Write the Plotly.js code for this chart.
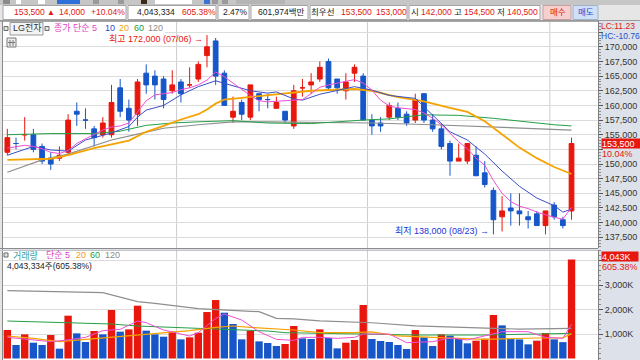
<!DOCTYPE html>
<html><head><meta charset="utf-8">
<script src="https://cdn.plot.ly/plotly-3.0.1.min.js"></script>
<style>html,body{margin:0;padding:0;background:#fff;}#chart{width:640px;height:360px;}</style>
</head><body><div id="chart"></div>
<script>
// ---------- data ----------
const dates = ['06/03','06/04','06/07','06/08','06/09','06/10','06/11','06/14','06/15','06/16','06/17','06/18','06/21','06/22','06/23','06/24','06/25','06/28','06/29','06/30',
 '07/01','07/02','07/05','07/06','07/07','07/08','07/09','07/12','07/13','07/14','07/15','07/16','07/19','07/20','07/21','07/22','07/23','07/26','07/27','07/28','07/29','07/30',
 '08/02','08/03','08/04','08/05','08/06','08/09','08/10','08/11','08/12','08/13','08/17','08/18','08/19','08/20','08/23','08/24','08/25','08/26','08/27','08/30','08/31',
 '09/01','09/02','09/03'];
const openP = [152000,153500,155000,155000,153000,151000,151000,152000,159000,157500,
 156000,155000,155000,163000,159500,158500,165500,165000,164500,162500,
 164000,163500,164500,168500,171000,165500,158000,160500,158000,162000,
 161000,159500,159000,156500,163000,163500,164500,167500,164500,162500,
 165500,165000,157500,157000,158000,159500,158500,157500,162000,157500,
 156000,153500,150500,150500,151500,148500,145500,141000,142500,142000,
 141000,141500,139500,143000,140500,142000];
const highP = [156000,154500,158000,156000,153500,152000,153000,158500,160500,159500,
 156500,158000,163500,164500,161000,164500,167000,166000,165000,166000,
 164500,166500,167500,172000,171500,166000,161500,161000,163500,162000,
 162000,161500,159000,163500,164500,165500,167500,168000,164500,165500,
 167000,165500,158500,158000,160500,160500,159000,162000,162000,158500,
 157000,154000,153500,153500,153000,150500,146000,144500,145000,145000,
 142000,142000,142000,143500,141000,154500];
const lowP = [151500,152500,154000,152000,150000,149000,150500,151500,156500,156000,
 153000,154500,154500,158000,155500,156500,162000,161000,159500,162000,
 160500,163000,164000,166500,163500,160000,157000,157500,157500,159000,
 159500,159500,157000,156000,161500,162000,164000,162500,162000,161000,
 164000,157500,155000,155500,157500,157500,156500,157000,157000,155500,
 152500,148000,150500,150000,148000,146000,138000,138500,139500,139500,
 139000,139500,138000,140500,139000,140500];
const closeP = [154500,153500,155000,152500,150500,150000,151500,157500,158500,157500,
 154500,157000,160500,159000,157500,164000,163500,163500,161000,163500,
 162000,163500,167000,170000,165000,160000,159000,158500,163500,161000,
 161000,160500,157500,162500,163000,164000,166500,163000,163000,164000,
 166500,157500,156500,156500,160000,158000,157000,161000,157500,156000,
 153000,150500,151000,153500,148000,146500,140500,142000,142000,141500,
 140500,139500,142000,141000,139500,153500];
const volumeK = [1163,551,986,646,551,959,401,1748,1027,673,
 1122,986,1979,1095,1190,2156,1136,986,891,1095,
 782,864,1054,1897,2387,1870,1408,782,1136,700,
 632,510,592,1326,823,796,1190,836,415,646,
 755,2183,796,714,673,551,388,1163,864,510,
 986,932,796,619,728,809,1775,1353,796,780,
 578,728,1040,782,667.9,4043.334];

// price moving averages
const ma5 = [152700,153000,153200,153000,152600,152000,151800,152300,153500,154300,
 155000,155800,156300,156500,157000,159000,160800,161800,162000,162200,
 162700,163000,163500,164300,165700,164900,163800,162700,161700,160800,
 160600,160700,160800,160900,161000,162000,163100,163500,163800,164200,
 164400,163800,162600,160900,159900,159600,159500,159300,158700,157800,
 156700,155200,153800,152600,151000,149800,147200,145000,143600,142800,
 142400,141800,141300,140900,140600,142600];
const ma10X = [0,3,5,7,9,12,14,15,16,18,20,22,24,26,28,30,31,33,34,36,38,40,42,44,47,49,51,53,55,57,59,61,63,64,65];
const ma10 = [151500,153000,152400,152200,154100,155300,156400,158000,159200,160000,161800,163200,164200,163300,162500,162100,162300,161100,160900,161900,162600,163200,162600,161700,161200,158400,155500,154100,151700,148800,146200,144200,142900,141800,142300];
const ma20X = [0,5,7,10,14,16,18,20,22,23,24,25,27,31,35,40,42,45,48,51,53,55,57,59,61,63,65];
const ma20 = [150700,150900,151500,152700,154000,155500,156500,157600,158500,159300,160300,161000,161300,161900,162500,162800,162500,161400,160700,159600,158900,157300,155000,152800,151000,149500,148300];
const ma60X = [0,5,10,13,16,19,22,26,30,35,41,44,48,52,56,60,63,65];
const ma60 = [155000,155200,155200,155600,156600,157000,157200,157400,157000,156900,157500,157700,158400,158300,157800,157100,156700,156500];
const ma120X = [0,4,7,12,15,18,22,26,30,36,42,49,56,65];
const ma120 = [148600,150700,151700,154100,155100,156100,156700,157200,157200,157100,157000,156700,156300,155800];

// volume moving averages (thousands of shares)
const vma5X = [0,3,5,7,9,11,13,15,16,18,21,22,24,25,27,29,31,33,34,36,38,40,41,44,46,49,51,53,56,57,60,62,64,65];
const vma5 = [864,755,687,760,864,1136,1190,1530,1462,1163,918,1054,1636,1815,1570,1095,782,740,864,864,823,864,1000,1000,646,687,836,755,1027,1095,1095,864,823,1400];
const vma20X = [0,3,6,9,12,15,18,21,24,26,28,30,33,36,40,42,45,49,55,61,64,65];
const vma20 = [918,823,690,782,864,959,1054,1136,1272,1326,1272,1231,1163,1054,1054,1090,920,864,782,836,842,1017];
const vma60X = [0,6,9,12,15,19,22,26,30,32,36,42,47,55,65];
const vma60 = [1530,1460,1435,1408,1326,1272,1204,1163,1122,1054,1027,986,959,959,1027];
const vma120X = [0,11,15,17,22,27,29,31,33,36,42,47,53,59,65];
const vma120 = [2770,2690,2320,2250,2040,1930,1910,1640,1620,1540,1460,1330,1270,1200,1230];

const priceTicks = [137500,140000,142500,145000,147500,150000,152500,155000,157500,160000,162500,165000,167500,170000,172500];
const volTicks = [1000,2000,3000,4000];
const volTickText = ['1,000K','2,000K','3,000K',''];

// ---------- styling ----------
const RED = '#e8170d', BLUE = '#1656c8';
const FONT = "'Liberation Sans','Noto Sans CJK KR',sans-serif";
const W = 640, H = 360;
const PX = x => x / W, PY = y => 1 - y / H;
const fmt = n => Math.round(n).toLocaleString('en-US');
const idx = dates.map((d, i) => i);
const N = dates.length;
const last = N - 1;

const volColors = volumeK.map((v, i) => (i === 0 || v > volumeK[i - 1]) ? RED : BLUE);

function line(x, y, color, width, xa, ya) {
  return {type: 'scatter', mode: 'lines', x: x, y: y, xaxis: xa, yaxis: ya,
    line: {color: color, width: width}, hoverinfo: 'skip', showlegend: false};
}

const traces = [
  line(ma120X, ma120, '#8e8e8e', 1.2, 'x', 'y'),
  line(ma60X, ma60, '#24a045', 1, 'x', 'y'),
  line(ma20X, ma20, '#f5a300', 1.8, 'x', 'y'),
  line(ma10X, ma10, '#3a4fc6', 1, 'x', 'y'),
  line(idx, ma5, '#ee4fd3', 1, 'x', 'y'),
  {type: 'candlestick', x: idx, open: openP, high: highP, low: lowP, close: closeP,
   xaxis: 'x', yaxis: 'y',
   increasing: {line: {color: RED, width: 1}, fillcolor: RED},
   decreasing: {line: {color: BLUE, width: 1}, fillcolor: BLUE},
   hoverinfo: 'skip', showlegend: false},
  {type: 'bar', x: idx, y: volumeK, xaxis: 'x2', yaxis: 'y2',
   marker: {color: volColors, line: {width: 0}}, hoverinfo: 'skip', showlegend: false},
  line(vma120X, vma120, '#8e8e8e', 1.2, 'x2', 'y2'),
  line(vma60X, vma60, '#24a045', 1, 'x2', 'y2'),
  line(vma20X, vma20, '#f5a300', 1.2, 'x2', 'y2'),
  line(vma5X, vma5, '#ee4fd3', 1, 'x2', 'y2')
];

// ---------- shapes ----------
const shapes = [];
function rect(x0, y0, x1, y1, fill, lineColor, layer) {
  shapes.push({type: 'rect', xref: 'paper', yref: 'paper', x0: PX(x0), x1: PX(x1), y0: PY(y1), y1: PY(y0),
    fillcolor: fill, line: {color: lineColor || fill, width: lineColor ? 1 : 0}, layer: layer || 'above'});
}
function hline(x0, x1, y, color, layer) {
  shapes.push({type: 'line', xref: 'paper', yref: 'paper', x0: PX(x0), x1: PX(x1), y0: PY(y), y1: PY(y),
    line: {color: color, width: 1}, layer: layer || 'above'});
}
function vline(x, y0, y1, color) {
  shapes.push({type: 'line', xref: 'paper', yref: 'paper', x0: PX(x), x1: PX(x), y0: PY(y0), y1: PY(y1),
    line: {color: color, width: 1}, layer: 'above'});
}
// toolbar strip + header row
rect(0, 0, 640, 5, '#c6c6c6');
rect(3, 0, 10, 4, '#8c8c8c'); rect(16, 0, 21, 4, '#ffffff'); rect(38, 0, 45, 4, '#ffffff');
rect(57, 0, 80, 4, '#2f6fd8'); rect(93, 0, 99, 4, '#9a9a9a'); rect(118, 0, 124, 4, '#9a9a9a');
rect(141, 0, 147, 4, '#3a2a1a'); rect(155, 0, 192, 4, '#ffffff');
rect(204, 0, 210, 4, '#3b74d0'); rect(212, 0, 218, 4, '#9a9a9a'); rect(222, 0, 228, 4, '#9a9a9a');
rect(236, 0, 285, 4, '#b5b5b5');
rect(0, 5, 640, 20, '#e6e6e6');
[[3,126],[128,216],[218,249],[251,308],[310,407],[409,540]].forEach(b => rect(b[0], 5.5, b[1], 19.5, '#ffffff', '#a4a4a4'));
rect(543, 5.5, 571, 19.5, '#f6cfcf', '#c9a0a0');
rect(573, 5.5, 598, 19.5, '#cfe0f6', '#9fb3cc');
hline(0, 640, 20.5, '#9a9a9a');
// frames
rect(0, 21, 3, 360, '#e4e4e4');
hline(0, 598, 21.5, '#a9a9a9');
vline(2.5, 21, 360, '#8a8a8a');
hline(0, 598, 248.5, '#8c8c8c');
hline(0, 598, 250.5, '#c4c4c4');
// legend background / icons
rect(3, 22, 165, 41, '#ffffff');
rect(4, 26.5, 8, 30.5, '#e4e4e4', '#6a6a6a');
rect(10, 22.5, 43, 35, '#f3f3f3', '#9a9a9a');
rect(45, 26.5, 49, 30.5, '#e4e4e4', '#6a6a6a');
rect(7, 38, 16, 47, '#ececec', '#7a7a7a');
vline(10, 40, 46, '#7a7a7a'); vline(13, 40, 46, '#7a7a7a'); hline(8, 15, 42.5, '#7a7a7a');
rect(4, 253, 8, 257, '#e4e4e4', '#6a6a6a');
// month separators
for (let i = 1; i < N; i++) {
  if (dates[i].slice(0, 2) !== dates[i - 1].slice(0, 2)) {
    shapes.push({type: 'line', xref: 'x', yref: 'paper', x0: i - 0.5, x1: i - 0.5, y0: 0, y1: PY(22),
      line: {color: '#cccccc', width: 1}, layer: 'below'});
  }
}

// ---------- annotations ----------
const ann = [];
function T(x, y, text, color, size, extra) {
  ann.push(Object.assign({xref: 'paper', yref: 'paper', x: PX(x), y: PY(y), text: text, showarrow: false,
    xanchor: 'left', yanchor: 'middle', borderpad: 0, font: {family: FONT, size: size || 9, color: color}}, extra || {}));
}
const chg = closeP[last] - closeP[last - 1];
const pct = chg / closeP[last - 1] * 100;
const volRatio = volumeK[last] / volumeK[last - 1] * 100;
const K = '#222222', HR = '#e0190f', HB = '#1d4fc8';
const HY = 12.5, HS = 8.5;
T(13, HY, fmt(closeP[last]), HR, HS);
T(46, HY, '▲', HR, 8);
T(58, HY, fmt(chg), HR, HS);
T(90, HY, '+' + pct.toFixed(2) + '%', HR, HS);
T(136, HY, fmt(volumeK[last] * 1000), K, HS);
T(181, HY, volRatio.toFixed(2) + '%', HR, HS);
T(222, HY, '2.47%', K, HS);
T(257, HY, '601,974백만', K, HS);
T(310, HY, '최우선', K, HS);
T(340, HY, fmt(closeP[last]), HR, HS);
T(375, HY, '153,000', HR, HS);
T(410, HY, '시', K, HS);
T(420, HY, fmt(openP[last]), HR, HS);
T(453, HY, '고', K, HS);
T(463, HY, fmt(highP[last]), HR, HS);
T(496, HY, '저', K, HS);
T(506, HY, fmt(lowP[last]), HR, HS);
T(549, HY, '매수', HR, HS);
T(577, HY, '매도', HB, HS);

// main legend
const LY = 28.5;
T(12, LY, 'LG전자', '#333333', 9);
T(53, LY, '종가 단순 5', '#e23fc3', 9);
T(104, LY, '10', '#3344cc', 9);
T(118, LY, '20', '#f0a010', 9);
T(133, LY, '60', '#22a044', 9);
T(147, LY, '120', '#8a8a8a', 9);
// volume legend
T(12, 255, '거래량', '#2f9c9c', 9);
T(45, 255, '단순 5', '#e23fc3', 9);
T(75, 255, '20', '#f0a010', 9);
T(89, 255, '60', '#22a044', 9);
T(104, 255, '120', '#8a8a8a', 9);
T(6, 266, fmt(volumeK[last] * 1000) + '주(' + volRatio.toFixed(2) + '%)', '#222222', 8.5);
// axis-side labels
T(600, 26.5, 'LC:11.23', '#e0190f', 8.5);
T(600, 36, 'HC:-10.76', '#1d4fc8', 8.5);

// max / min markers
let iMax = 0, iMin = 0;
for (let i = 1; i < N; i++) { if (highP[i] > highP[iMax]) iMax = i; if (lowP[i] < lowP[iMin]) iMin = i; }
ann.push({xref: 'x', yref: 'y', x: iMax, y: highP[iMax], xanchor: 'right', yanchor: 'middle', xshift: -3, yshift: -3.5,
  text: '최고 ' + fmt(highP[iMax]) + ' (' + dates[iMax] + ') →', showarrow: false, borderpad: 0,
  font: {family: FONT, size: 9, color: '#e8170d'}});
ann.push({xref: 'x', yref: 'y', x: iMin, y: lowP[iMin], xanchor: 'right', yanchor: 'middle', xshift: -3, yshift: 3,
  text: '최저 ' + fmt(lowP[iMin]) + ' (' + dates[iMin] + ') →', showarrow: false, borderpad: 0,
  font: {family: FONT, size: 9, color: '#2233d8'}});

// current price / volume boxes on the axes
ann.push({xref: 'paper', yref: 'y', x: PX(601), y: closeP[last], xanchor: 'left', yanchor: 'middle',
  text: fmt(closeP[last]), showarrow: false, bgcolor: RED, borderpad: 0, width: 38, height: 9, align: 'left',
  font: {family: FONT, size: 9, color: '#ffffff'}});
ann.push({xref: 'paper', yref: 'y', x: PX(601), y: closeP[last], xanchor: 'left', yanchor: 'top', yshift: -4.5,
  text: pct.toFixed(2) + '%', showarrow: false, borderpad: 0, height: 9,
  font: {family: FONT, size: 9, color: RED}});
ann.push({xref: 'paper', yref: 'y2', x: PX(601), y: volumeK[last], xanchor: 'left', yanchor: 'middle', yshift: 3,
  text: fmt(volumeK[last]) + 'K', showarrow: false, bgcolor: RED, borderpad: 0, width: 36, height: 9, align: 'left',
  font: {family: FONT, size: 9, color: '#ffffff'}});
ann.push({xref: 'paper', yref: 'y2', x: PX(601), y: volumeK[last], xanchor: 'left', yanchor: 'top', yshift: -1.5,
  text: volRatio.toFixed(2) + '%', showarrow: false, borderpad: 0, height: 9,
  font: {family: FONT, size: 9, color: RED}});

// ---------- layout ----------
const xr = [-0.5, 68.05];
const axisFont = {family: FONT, size: 9, color: '#333333'};
// labels above the top gridline and next to the current-price box are not shown in the reference
const priceTickText = priceTicks.map(v => (v > 170000 || Math.abs(v - closeP[last]) < 1500) ? '' : fmt(v));
const layout = {
  width: W, height: H, margin: {l: 0, r: 0, t: 0, b: 0},
  paper_bgcolor: '#dde2ea', plot_bgcolor: '#ffffff', showlegend: false,
  boxgap: 0.22, bargap: 0.15,
  xaxis: {domain: [3 / W, 598 / W], range: xr, showgrid: false, zeroline: false, showticklabels: false,
    ticks: '', rangeslider: {visible: false}, anchor: 'y', fixedrange: true},
  xaxis2: {domain: [3 / W, 598 / W], range: xr, showgrid: false, zeroline: false, showticklabels: false,
    ticks: '', anchor: 'y2', fixedrange: true},
  yaxis: {domain: [1 - 248 / H, 1 - 21 / H], range: [135675, 174400], side: 'right', anchor: 'x',
    tickmode: 'array', tickvals: priceTicks, ticktext: priceTickText,
    ticks: 'outside', ticklen: 4, tickcolor: '#555555', showline: true, linecolor: '#7f7f7f',
    gridcolor: '#dcdcdc', zeroline: false, tickfont: axisFont, fixedrange: true,
    minor: {tickmode: 'linear', tick0: 0, dtick: 500, ticks: 'outside', ticklen: 2, tickcolor: '#8a8a8a', showgrid: false}},
  yaxis2: {domain: [0, 1 - 250 / H], range: [-61, 4429], side: 'right', anchor: 'x2',
    tickmode: 'array', tickvals: volTicks, ticktext: volTickText,
    ticks: 'outside', ticklen: 4, tickcolor: '#555555', showline: true, linecolor: '#7f7f7f',
    gridcolor: '#dcdcdc', zeroline: false, tickfont: axisFont, fixedrange: true,
    minor: {tickmode: 'linear', tick0: 0, dtick: 200, ticks: 'outside', ticklen: 2, tickcolor: '#8a8a8a', showgrid: false}},
  shapes: shapes, annotations: ann
};
Plotly.newPlot('chart', traces, layout, {staticPlot: true, displayModeBar: false});
</script></body></html>
